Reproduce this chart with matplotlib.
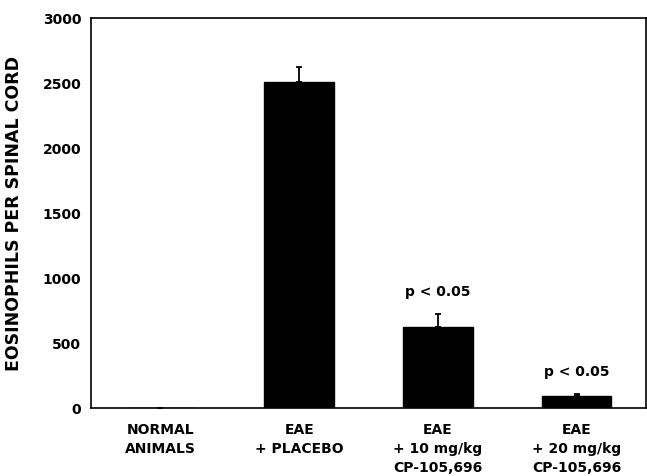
import matplotlib
matplotlib.use('Agg')
import matplotlib.pyplot as plt

# groups and values
groups = ['NORMAL\nANIMALS', 'EAE\n+ PLACEBO', 'EAE\n+ 10 mg/kg\nCP-105,696', 'EAE\n+ 20 mg/kg\nCP-105,696']
counts = [0, 2510, 620, 90]
errs = [0, 110, 105, 20]
notes = ['', '', 'p < 0.05', 'p < 0.05']
yticks = [0, 500, 1000, 1500, 2000, 2500, 3000]

plt.rcParams['font.family'] = ['DejaVu Sans']
plt.rcParams['font.weight'] = 'bold'

fig = plt.figure(figsize=(6.47, 4.77), dpi=100)
ax = fig.add_axes([0.1406, 0.1426, 0.858, 0.8176])

x = list(range(len(groups)))
ax.bar(x, counts, width=0.5, color='black', edgecolor='black')
ax.errorbar(x, counts, yerr=[[0] * len(errs), errs], fmt='none',
            ecolor='black', elinewidth=1.3, capsize=2.5, capthick=1.3)

for i in range(len(groups)):
    if notes[i]:
        ax.text(x[i], counts[i] + errs[i] + 120, notes[i], ha='center', va='bottom',
                fontsize=10, fontweight='bold')

ax.set_xlim(-0.5, 3.5)
ax.set_ylim(0, 3000)
ax.set_yticks(yticks)
ax.set_yticklabels([str(v) for v in yticks], fontsize=10, fontweight='bold')
ax.set_xticks(x)
ax.set_xticklabels(groups, fontsize=10, fontweight='bold', linespacing=1.45, va='top')
ax.tick_params(axis='both', length=0)
ax.tick_params(axis='y', pad=7)
ax.tick_params(axis='x', pad=10)

for s in ax.spines.values():
    s.set_linewidth(1.2)

ax.set_ylabel('EOSINOPHILS PER SPINAL CORD', fontsize=12.5, fontweight='bold', labelpad=14)

fig.savefig('out.png', dpi=100)
